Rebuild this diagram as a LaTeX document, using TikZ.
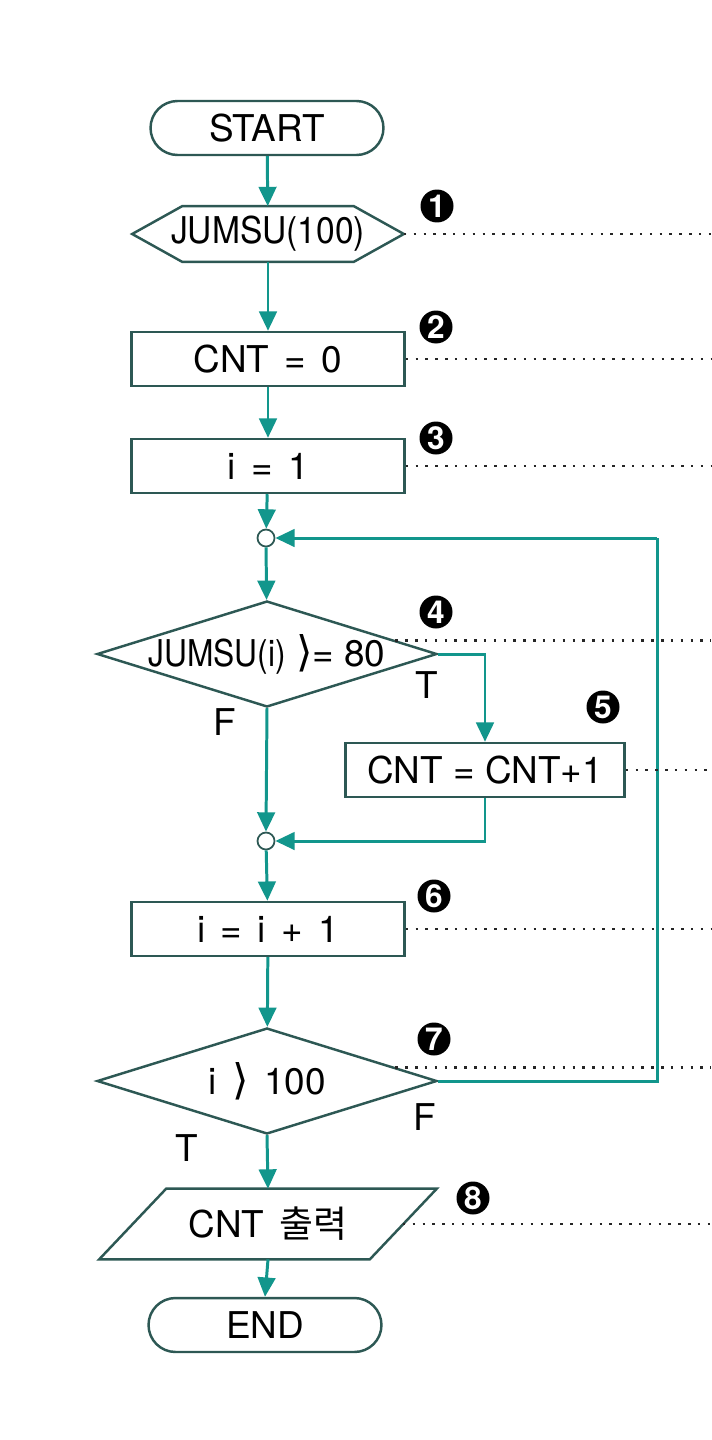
\documentclass[tikz,border=0pt]{standalone}
\usepackage{fontspec}
\setmainfont{TeX Gyre Heros}
\newfontfamily\kr{Noto Sans CJK KR}
\newfontfamily\symf{DejaVu Sans}
\usetikzlibrary{calc, positioning, arrows.meta, shapes.geometric, shapes.misc}
\definecolor{flowteal}{RGB}{18,150,140}
\definecolor{flowedge}{RGB}{45,88,84}
\newcommand{\gap}{\hspace{0.42em}}
\newcommand{\gtsign}{{\symf\fontsize{24}{25}\selectfont ⟩}}
\tikzset{
    termbox/.style={draw=flowedge, line width=1.4pt, rounded rectangle, minimum width=4.66cm, minimum height=1.08cm, inner sep=0pt, font=\fontsize{21}{25}\selectfont},
    procbox/.style={draw=flowedge, line width=1.4pt, rectangle, minimum width=5.46cm, minimum height=1.08cm, inner sep=0pt, font=\fontsize{21}{25}\selectfont},
    plainbox/.style={rectangle, inner sep=0pt, font=\fontsize{21}{25}\selectfont},
    edge/.style={draw=flowedge, line width=1.4pt, line join=miter},
    decbox/.style={draw=flowedge, line width=1.4pt, diamond, aspect=3.2, minimum width=6.8cm, minimum height=2.12cm, inner sep=0pt, font=\fontsize{21}{25}\selectfont},
    joint/.style={circle, draw=flowedge, line width=1pt, fill=white, minimum size=0.34cm, inner sep=0pt},
    stepmark/.style={circle, fill=black, text=white, minimum size=0.66cm, inner sep=0pt, font=\bfseries\fontsize{18}{18}\selectfont},
    flow/.style={draw=flowteal, line width=1.7pt, -{Triangle[length=11pt,width=10pt]}},
    flowline/.style={draw=flowteal, line width=1.7pt},
    guide/.style={draw=black!85, line width=1.6pt, dash pattern=on 1.4pt off 4.2pt},
    branch/.style={font=\fontsize{21}{25}\selectfont}
}
\begin{document}
\begin{tikzpicture}[x=0.02cm,y=-0.02cm]
    \fill[white] (0,0) rectangle (711,1440);
    \path[use as bounding box] (0,0) rectangle (711,1440);
    \coordinate (rim) at (711,0);

    % main column
    \node[termbox] (start) at (267,128) {START};
    \node[plainbox, minimum width=5.42cm, minimum height=1.1cm] (arr) at (268,234) {\scalebox{0.91}[1]{JUMSU(100)}};
    \draw[edge] (arr.west) -- ($(arr.north west)+(50,0)$) -- ($(arr.north east)+(-50,0)$) -- (arr.east)
        -- ($(arr.south east)+(-50,0)$) -- ($(arr.south west)+(50,0)$) -- cycle;
    \node[procbox] (cnt) at (268,359) {CNT\gap=\gap0};
    \node[procbox] (ini) at (268,466) {i\gap=\gap1};
    \node[joint] (j1) at (266,538) {};
    \node[decbox] (test) at (267,654) {\makebox[0pt]{\scalebox{0.86}[1]{JUMSU(i)} \gtsign= 80}};
    \node[procbox, minimum width=5.58cm] (add) at (485,770) {CNT = CNT+1};
    \node[joint] (j2) at (266,841) {};
    \node[procbox] (inc) at (268,929) {i\gap=\gap i\gap+\gap1};
    \node[decbox] (stop) at (267,1081) {\makebox[0pt]{i\gap\gtsign\gap100}};
    \node[plainbox, minimum width=6.74cm, minimum height=1.4cm] (out) at (268,1224) {CNT\gap{\kr 출력}};
    \draw[edge] (out.south west) -- ($(out.north west)+(67,0)$) -- (out.north east)
        -- ($(out.south east)+(-67,0)$) -- cycle;
    \node[termbox] (fin) at (265,1325) {END};
    \coordinate (turn) at (657,538);

    % branch labels
    \node[branch] (t4) at (427,685) {T};
    \node[branch] (f4) at (225,722) {F};
    \node[branch] (f7) at (425,1117) {F};
    \node[branch] (t7) at (187,1148) {T};

    % step marks
    \node[stepmark] (m1) at (437,206) {1};
    \node[stepmark] (m2) at (436,327) {2};
    \node[stepmark] (m3) at (436,438) {3};
    \node[stepmark] (m4) at (436,612) {4};
    \node[stepmark] (m5) at (603,707) {5};
    \node[stepmark] (m6) at (434,896) {6};
    \node[stepmark] (m7) at (434,1039) {7};
    \node[stepmark] (m8) at (473,1198) {8};

    % connectors
    \draw[flow] (start)--(arr);
    \draw[flow] (arr)--(cnt);
    \draw[flow] (cnt)--(ini);
    \draw[flow] (ini)--(j1);
    \draw[flow] (j1)--(test);
    \draw[flow] (test.east) -| (add.north);
    \draw[flow] (test.south)--(j2.north);
    \draw[flow] (add.south) |- (j2.east);
    \draw[flow] (j2)--(inc);
    \draw[flow] (inc)--(stop);
    \draw[flowline] (stop.east) -| (turn);
    \draw[flow] (turn)--(j1.east);
    \draw[flow] (stop.south)--(out.north);
    \draw[flow] (out.south)--(fin.north);

    % dotted guides
    \draw[guide] (arr.east) -- (arr.east -| rim);
    \draw[guide] (cnt.east) -- (cnt.east -| rim);
    \draw[guide] (ini.east) -- (ini.east -| rim);
    \draw[guide] ($(test.north)!0.75!(test.east)$) coordinate (g4) -- (g4 -| rim);
    \draw[guide] (add.east) -- (add.east -| rim);
    \draw[guide] (inc.east) -- (inc.east -| rim);
    \draw[guide] ($(stop.north)!0.75!(stop.east)$) coordinate (g7) -- (g7 -| rim);
    \draw[guide] ($(out.east)+(-34,0)$) coordinate (g8) -- (g8 -| rim);
\end{tikzpicture}
\end{document}
